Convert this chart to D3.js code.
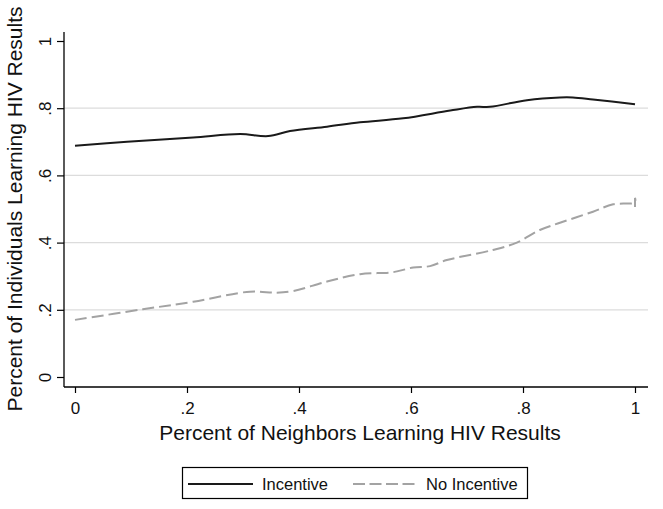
<!DOCTYPE html>
<html>
<head>
<meta charset="utf-8">
<script src="https://cdn.jsdelivr.net/npm/d3@7"></script>
<style>
  html, body { margin: 0; padding: 0; background: #fff; }
  svg { display: block; font-family: "Liberation Sans", Arial, Helvetica, sans-serif; }
</style>
</head>
<body>
<svg id="chart" width="663" height="509"></svg>
<script>
// ---- data ----
const xTicks = [0, 0.2, 0.4, 0.6, 0.8, 1];
const xTickLabels = ["0", ".2", ".4", ".6", ".8", "1"];
const yTicks = [0, 0.2, 0.4, 0.6, 0.8, 1];
const yTickLabels = ["0", ".2", ".4", ".6", ".8", "1"];
const gridValues = [0.2, 0.4, 0.6, 0.8];

const incentiveX = [0, 0.093, 0.211, 0.295, 0.345, 0.384, 0.45, 0.509, 0.586, 0.67, 0.718, 0.741, 0.807, 0.866, 0.889, 0.925, 1.0];
const incentiveY = [0.688, 0.700, 0.713, 0.723, 0.717, 0.732, 0.745, 0.758, 0.770, 0.793, 0.804, 0.804, 0.824, 0.832, 0.832, 0.826, 0.812];

const noIncentiveX = [0, 0.121, 0.211, 0.3125, 0.36, 0.39, 0.45, 0.509, 0.568, 0.604, 0.634, 0.664, 0.746, 0.789, 0.830, 0.866, 0.925, 0.961, 1.0, 1.0, 1.0];
const noIncentiveY = [0.170, 0.2015, 0.224, 0.254, 0.251, 0.256, 0.284, 0.306, 0.312, 0.326, 0.330, 0.348, 0.378, 0.400, 0.4375, 0.459, 0.492, 0.514, 0.520, 0.533, 0.506];

const seriesNames = ["Incentive", "No Incentive"];
const xTitle = "Percent of Neighbors Learning HIV Results";
const yTitle = "Percent of Individuals Learning HIV Results";

// ---- layout ----
const svg = d3.select("#chart");
const x = d3.scaleLinear().domain([0, 1]).range([75, 635]);
const y = d3.scaleLinear().domain([0, 1]).range([377, 41]);
const plotLeft = 64, plotRight = 648, axisY = 387, axisTop = 32;

// gridlines
svg.append("g").selectAll("line").data(gridValues).join("line")
  .attr("x1", plotLeft).attr("x2", plotRight)
  .attr("y1", d => y(d)).attr("y2", d => y(d))
  .attr("stroke", "#dcdcdc").attr("stroke-width", 1.2);

// y axis
const yAxis = d3.axisLeft(y).tickValues(yTicks).tickFormat((d, i) => yTickLabels[i]).tickSize(7).tickSizeOuter(0);
const gy = svg.append("g").attr("transform", `translate(${plotLeft},0)`).call(yAxis);
gy.select(".domain").remove();
gy.selectAll(".tick line").attr("stroke", "#000").attr("stroke-width", 1.2);
gy.selectAll(".tick text")
  .attr("font-size", 17).attr("fill", "#111")
  .attr("x", 0).attr("dy", 0)
  .attr("text-anchor", "middle")
  .attr("transform", "translate(-13,0) rotate(-90)");
svg.append("line").attr("x1", plotLeft).attr("x2", plotLeft)
  .attr("y1", axisTop).attr("y2", axisY).attr("stroke", "#000").attr("stroke-width", 1.3);

// x axis
const xAxis = d3.axisBottom(x).tickValues(xTicks).tickFormat((d, i) => xTickLabels[i]).tickSize(6).tickSizeOuter(0);
const gx = svg.append("g").attr("transform", `translate(0,${axisY})`).call(xAxis);
gx.select(".domain").remove();
gx.selectAll(".tick line").attr("stroke", "#000").attr("stroke-width", 1.2);
gx.selectAll(".tick text").attr("font-size", 17).attr("fill", "#111").attr("y", 15);
svg.append("line").attr("x1", plotLeft).attr("x2", plotRight)
  .attr("y1", axisY).attr("y2", axisY).attr("stroke", "#000").attr("stroke-width", 1.3);

// titles
svg.append("text").attr("x", 360).attr("y", 440).attr("text-anchor", "middle")
  .attr("font-size", 21).attr("fill", "#111").text(xTitle);
svg.append("text").attr("transform", "translate(22,209) rotate(-90)").attr("text-anchor", "middle")
  .attr("font-size", 21).attr("fill", "#111").text(yTitle);

// lines
const line = d3.line().x(d => x(d[0])).y(d => y(d[1])).curve(d3.curveCatmullRom.alpha(0.5));
const incData = incentiveX.map((v, i) => [v, incentiveY[i]]);
const noData = noIncentiveX.map((v, i) => [v, noIncentiveY[i]]);

svg.append("path").datum(noData).attr("d", line)
  .attr("fill", "none").attr("stroke", "#a3a3a3").attr("stroke-width", 2)
  .attr("stroke-dasharray", "12,5");
svg.append("path").datum(incData).attr("d", line)
  .attr("fill", "none").attr("stroke", "#1a1a1a").attr("stroke-width", 2);

// legend
const lg = svg.append("g");
lg.append("rect").attr("x", 182.5).attr("y", 467.5).attr("width", 345).attr("height", 31)
  .attr("fill", "#fff").attr("stroke", "#000").attr("stroke-width", 1.2);
const legendItems = [
  { name: seriesNames[0], color: "#1a1a1a", dash: null, x0: 188, tx: 262 },
  { name: seriesNames[1], color: "#a3a3a3", dash: "12,4.5", x0: 353, tx: 426 }
];
legendItems.forEach(it => {
  const l = lg.append("line").attr("x1", it.x0).attr("x2", it.x0 + 65)
    .attr("y1", 484).attr("y2", 484).attr("stroke", it.color).attr("stroke-width", 2);
  if (it.dash) l.attr("stroke-dasharray", it.dash);
  lg.append("text").attr("x", it.tx).attr("y", 490).attr("font-size", 16.5)
    .attr("fill", "#111").text(it.name);
});
</script>
</body>
</html>
